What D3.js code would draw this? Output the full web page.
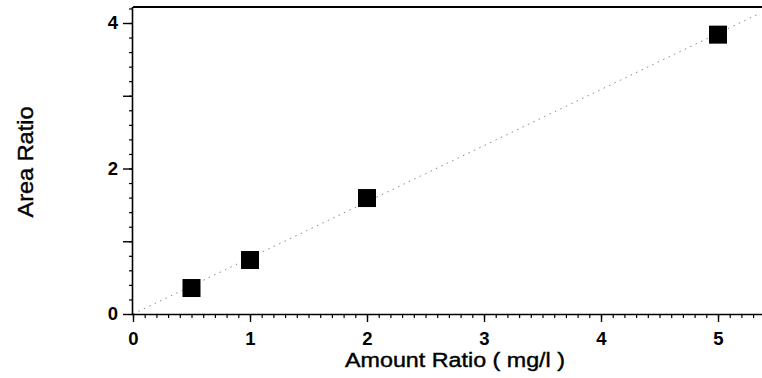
<!DOCTYPE html>
<html><head><meta charset="utf-8">
<script src="https://cdn.jsdelivr.net/npm/d3@7"></script>
<style>
html,body{margin:0;padding:0;background:#fff;}
svg{display:block;}
text{font-family:Arial,"Liberation Sans",sans-serif;fill:#000;}
</style></head>
<body>
<svg id="chart" width="762" height="378"></svg>
<script>
const amountRatio = [0.5, 1, 2, 5];
const areaRatio = [0.357, 0.742, 1.594, 3.84];
const fitLineX = [0, 5.34];
const fitLineY = [0, 4.12];
const xTickLabels = [0, 1, 2, 3, 4, 5];
const yTickLabels = [0, 2, 4];
const xTitle = "Amount Ratio ( mg/l )";
const yTitle = "Area Ratio";

const svg = d3.select("#chart");
const x = d3.scaleLinear().domain([0, 5.376]).range([133, 762]);
const y = d3.scaleLinear().domain([0, 4.22]).range([314, 7]);

// top border
svg.append("line").attr("x1", x(0)).attr("x2", 762).attr("y1", y(4.22)).attr("y2", y(4.22))
  .attr("stroke", "#000").attr("stroke-width", 2);

// fit line
svg.append("line")
  .attr("x1", x(fitLineX[0])).attr("y1", y(fitLineY[0]))
  .attr("x2", x(fitLineX[1])).attr("y2", y(fitLineY[1]))
  .attr("stroke", "#888").attr("stroke-width", 1).attr("stroke-dasharray", "1.5,4.5");

// x axis minor/major ticks
const xMinor = d3.range(0, 54).map(i => i / 10);
const xAxisMinor = d3.axisBottom(x).tickValues(xMinor).tickSize(4).tickFormat("");
const gxm = svg.append("g").attr("transform", `translate(0,${y(0)})`).call(xAxisMinor);
gxm.select(".domain").attr("stroke-width", 1.6).attr("d", `M${x(0)},0.5H762`);
gxm.selectAll(".tick line").attr("stroke-width", 1.2);
const xAxis = d3.axisBottom(x).tickValues(xTickLabels).tickSize(8).tickPadding(10).tickFormat(d3.format("d"));
const gx = svg.append("g").attr("transform", `translate(0,${y(0)})`).call(xAxis);
gx.select(".domain").remove();
gx.selectAll(".tick line").attr("stroke-width", 1.4);
gx.selectAll(".tick text").attr("font-size", 18.5).attr("font-weight", "bold")
  .attr("font-family", "Arial, 'Liberation Sans', sans-serif");

// y axis
const yMinor = d3.range(0, 22).map(i => i / 5);
const yAxisMinor = d3.axisLeft(y).tickValues(yMinor).tickSize(4).tickFormat("");
const gym = svg.append("g").attr("transform", `translate(${x(0)},0)`).call(yAxisMinor);
gym.select(".domain").attr("stroke-width", 1.6).attr("d", `M-0.5,${y(0)}V${y(4.22)}`);
gym.selectAll(".tick line").attr("stroke-width", 1.2);
const yMajor = d3.axisLeft(y).tickValues([0, 1, 2, 3, 4]).tickSize(10).tickPadding(5)
  .tickFormat(d => yTickLabels.includes(d) ? d : "");
const gy = svg.append("g").attr("transform", `translate(${x(0)},0)`).call(yMajor);
gy.select(".domain").remove();
gy.selectAll(".tick line").attr("stroke-width", 1.4);
gy.selectAll(".tick text").attr("font-size", 18.5).attr("font-weight", "bold")
  .attr("font-family", "Arial, 'Liberation Sans', sans-serif");

// markers
const ms = 18;
svg.append("g").selectAll("rect").data(amountRatio).join("rect")
  .attr("x", d => x(d) - ms / 2)
  .attr("y", (d, i) => y(areaRatio[i]) - ms / 2)
  .attr("width", ms).attr("height", ms).attr("fill", "#000");

// titles
svg.append("text").attr("x", 455).attr("y", 367).attr("text-anchor", "middle")
  .attr("font-size", 20).attr("textLength", 220).attr("lengthAdjust", "spacingAndGlyphs")
  .attr("stroke", "#000").attr("stroke-width", 0.4)
  .text(xTitle);
svg.append("text").attr("transform", "translate(33,162) rotate(-90)").attr("text-anchor", "middle")
  .attr("font-size", 22).attr("textLength", 111).attr("lengthAdjust", "spacingAndGlyphs")
  .attr("stroke", "#000").attr("stroke-width", 0.4)
  .text(yTitle);
</script>
</body></html>
